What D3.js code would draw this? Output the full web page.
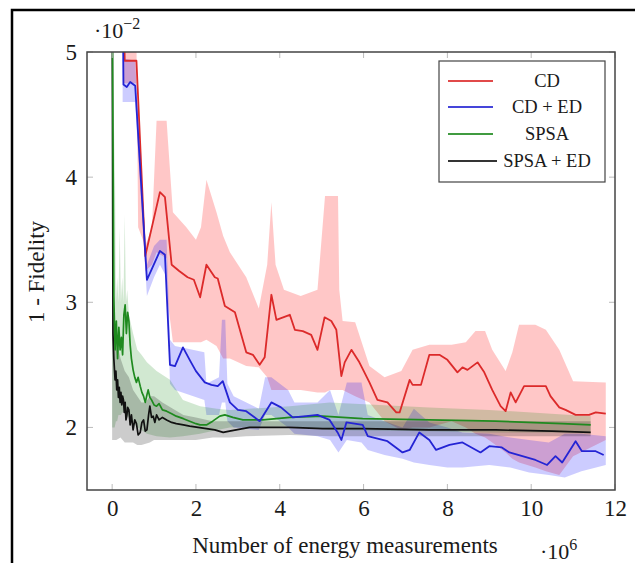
<!DOCTYPE html>
<html><head><meta charset="utf-8">
<script src="https://cdn.jsdelivr.net/npm/d3@7"></script>
<style>body{margin:0;background:#fff;} svg{display:block;} text{font-family:"Liberation Serif","DejaVu Serif",serif;fill:#1a1a1a;}</style>
</head><body><svg id="chart" width="635" height="563"></svg>
<script>
// ---------- data (x in 10^6 measurements, y in 10^-2) ----------
const seriesNames = ["CD", "CD + ED", "SPSA", "SPSA + ED"];
const xTicks = [0, 2, 4, 6, 8, 10, 12];
const yTicks = [2, 3, 4, 5];

const cdX = [0.27,0.30,0.58,0.79,1.14,1.26,1.42,1.60,1.80,1.95,2.10,2.25,2.45,2.52,2.69,2.93,3.20,3.36,3.52,3.64,3.80,3.92,4.24,4.36,4.55,4.75,4.90,5.07,5.23,5.35,5.47,5.55,5.71,5.90,6.14,6.33,6.57,6.78,6.86,7.10,7.17,7.37,7.57,7.81,8.00,8.24,8.36,8.48,8.72,8.88,9.07,9.27,9.39,9.51,9.63,9.83,10.35,10.46,10.67,10.82,11.06,11.38,11.54,11.78];
const cdY = [5.6,4.93,4.93,3.37,3.88,3.84,3.30,3.25,3.20,3.18,3.04,3.30,3.20,3.19,2.97,2.92,2.60,2.58,2.50,2.56,3.06,2.86,2.90,2.78,2.77,2.74,2.62,2.88,2.85,2.78,2.41,2.52,2.62,2.52,2.36,2.22,2.20,2.12,2.12,2.38,2.34,2.34,2.58,2.58,2.54,2.44,2.48,2.46,2.52,2.44,2.30,2.17,2.13,2.28,2.20,2.33,2.33,2.25,2.16,2.14,2.10,2.10,2.12,2.11];
const cdBandX  = [0.27,0.58,0.62,0.79,0.95,1.06,1.30,1.33,1.45,1.77,2.00,2.12,2.25,2.49,2.65,2.81,3.20,3.50,3.70,3.80,3.90,4.10,4.50,4.90,5.08,5.20,5.39,5.42,5.50,5.80,6.14,6.50,6.90,7.17,7.57,8.10,8.44,8.67,8.90,9.07,9.39,9.55,9.71,10.10,10.35,10.67,11.00,11.78];
const cdBandHi = [5.10,5.10,3.60,3.45,3.60,4.45,4.45,4.30,3.72,3.60,3.50,3.60,3.98,3.72,3.53,3.40,3.20,2.95,3.30,3.80,3.30,3.10,3.05,3.10,3.85,3.85,3.85,3.10,2.85,2.84,2.49,2.40,2.45,2.62,2.66,2.66,2.68,2.77,2.77,2.62,2.45,2.60,2.82,2.82,2.78,2.62,2.37,2.36];
const cdBandLo = [4.75,4.75,4.50,3.25,3.30,3.40,3.35,3.00,2.68,2.68,2.68,2.68,2.70,2.65,2.55,2.55,2.49,2.48,2.40,2.30,2.30,2.30,2.30,2.28,2.28,2.30,2.30,2.30,2.30,2.25,2.20,2.05,1.98,2.00,2.00,2.05,2.00,1.95,1.92,1.88,1.80,1.75,1.72,1.68,1.65,1.62,1.77,1.90];

const ceX = [0.25,0.27,0.35,0.43,0.55,0.83,1.14,1.26,1.38,1.50,1.69,1.85,2.00,2.21,2.37,2.52,2.64,2.81,3.00,3.20,3.52,3.80,4.03,4.31,4.63,4.90,5.19,5.38,5.47,5.59,5.98,6.10,6.57,6.93,7.10,7.33,7.57,7.73,8.05,8.36,8.79,9.00,9.30,9.48,9.79,10.10,10.38,10.58,10.74,11.06,11.21,11.54,11.73];
const ceY = [5.6,4.74,4.72,4.76,4.73,3.18,3.41,3.38,2.50,2.49,2.64,2.54,2.45,2.36,2.34,2.33,2.37,2.20,2.14,2.13,2.05,2.20,2.16,2.08,2.09,2.10,2.06,1.96,1.90,2.04,2.02,1.93,1.89,1.80,1.82,1.96,1.90,1.82,1.86,1.88,1.80,1.85,1.84,1.80,1.77,1.74,1.70,1.77,1.72,1.89,1.81,1.81,1.78];
const ceBandX  = [0.25,0.55,0.60,0.83,1.00,1.14,1.30,1.38,1.50,2.20,2.25,2.55,2.62,2.70,2.75,2.90,3.50,3.65,3.80,4.20,4.35,4.90,5.20,5.40,5.60,5.95,6.10,6.50,6.93,7.20,7.57,8.00,8.36,9.00,9.50,9.95,10.42,10.80,11.20,11.78];
const ceBandHi = [4.95,4.93,4.60,3.30,3.45,3.50,3.50,2.70,2.65,2.60,2.35,2.40,2.86,2.86,2.35,2.25,2.15,2.40,2.40,2.30,2.20,2.20,2.30,2.10,2.36,2.36,2.10,2.05,2.00,2.15,2.04,2.00,1.96,1.95,1.92,1.90,1.88,1.95,1.95,1.93];
const ceBandLo = [4.60,4.60,4.30,3.05,3.20,3.30,3.20,2.35,2.30,2.22,2.10,2.10,2.20,2.20,2.05,2.00,1.98,2.10,2.10,2.00,1.95,1.93,1.90,1.80,1.90,1.88,1.82,1.78,1.75,1.72,1.70,1.68,1.68,1.70,1.68,1.64,1.62,1.60,1.65,1.70];

const spX = [0,0.04,0.07,0.10,0.13,0.16,0.19,0.22,0.25,0.28,0.31,0.34,0.37,0.40,0.43,0.46,0.50,0.54,0.58,0.62,0.67,0.71,0.75,0.79,0.83,0.86,0.90,0.94,1.00,1.06,1.12,1.20,1.30,1.42,1.53,1.70,1.85,2.00,2.10,2.25,2.40,2.57,2.69,2.88,3.12,3.60,4.24,5.02,5.98,7.57,9.15,10.74,11.42];
const spY = [5.6,3.05,2.62,2.85,2.55,2.80,2.62,2.72,2.58,2.90,2.98,2.75,2.92,2.85,2.66,2.55,2.46,2.40,2.36,2.40,2.33,2.28,2.25,2.20,2.26,2.30,2.24,2.22,2.18,2.17,2.19,2.14,2.13,2.11,2.09,2.07,2.05,2.03,2.02,2.02,2.05,2.09,2.10,2.08,2.06,2.06,2.08,2.09,2.07,2.06,2.05,2.03,2.02];
const spBandX  = [0,0.03,0.06,0.09,0.12,0.15,0.18,0.21,0.24,0.27,0.30,0.33,0.36,0.40,0.50,0.60,0.70,0.83,1.06,1.38,1.69,2.10,2.50,2.81,4.24,5.19,7.57,9.00,11.42];
const spBandHi = [5.0,3.3,4.4,3.0,3.2,3.0,3.6,3.0,3.2,3.0,3.7,3.0,3.1,2.9,2.75,2.62,2.58,2.52,2.45,2.38,2.22,2.17,2.15,2.14,2.17,2.20,2.16,2.14,2.09];
const spBandLo = [2.0,2.0,2.0,2.05,2.05,2.10,2.10,2.10,2.12,2.12,2.15,2.12,2.10,2.08,2.05,2.00,1.98,1.95,1.93,1.92,1.93,1.95,1.98,2.00,2.01,1.98,1.97,1.96,1.96];

const seX = [0,0.02,0.04,0.07,0.09,0.11,0.13,0.15,0.17,0.19,0.21,0.23,0.25,0.27,0.29,0.31,0.33,0.35,0.37,0.40,0.43,0.46,0.50,0.54,0.58,0.62,0.67,0.71,0.75,0.79,0.83,0.87,0.90,0.94,0.98,1.02,1.06,1.12,1.20,1.30,1.42,1.53,1.70,1.85,2.05,2.25,2.45,2.65,2.80,2.96,3.28,3.60,4.24,5.02,5.98,7.57,9.15,10.50,11.42];
const seY = [5.6,2.75,2.55,2.38,2.45,2.30,2.38,2.24,2.32,2.20,2.28,2.18,2.25,2.22,2.12,2.20,2.06,2.09,2.16,2.14,2.02,2.10,1.98,2.06,2.03,1.94,1.96,2.04,2.06,1.97,1.98,2.10,2.17,2.08,2.09,2.04,2.10,2.06,2.08,2.06,2.04,2.03,2.02,2.01,2.00,1.99,1.98,1.96,1.97,1.98,2.00,2.00,2.00,1.99,1.99,1.98,1.98,1.97,1.96];
const seBandX  = [0,0.05,0.10,0.20,0.30,0.40,0.50,0.60,0.70,0.80,0.90,1.00,1.20,1.45,1.70,2.00,2.40,2.80,3.20,4.24,5.19,7.57,9.15,11.42];
const seBandHi = [3.0,2.9,2.7,2.55,2.45,2.40,2.30,2.25,2.20,2.20,2.25,2.25,2.20,2.15,2.10,2.08,2.05,2.05,2.05,2.05,2.05,2.05,2.05,2.05];
const seBandLo = [1.90,1.90,1.90,1.92,1.88,1.88,1.88,1.86,1.86,1.87,1.88,1.90,1.90,1.90,1.90,1.90,1.92,1.92,1.93,1.94,1.93,1.93,1.93,1.93];

// ---------- layout ----------
const svg = d3.select("#chart");
const L = 87, R = 615, T = 52, B = 490;
const x = d3.scaleLinear().domain([-0.6, 12]).range([L, R]);
const y = d3.scaleLinear().domain([1.5, 5]).range([B, T]);

const colors = {line:["#dc2a2a","#2424d4","#1f8a1f","#111111"], band:["#ff0000","#0000ff","#008000","#000000"]};

// outer frame
svg.append("rect").attr("x",12).attr("y",10).attr("width",700).attr("height",700)
  .attr("fill","none").attr("stroke","#000").attr("stroke-width",2.5);

svg.append("defs").append("clipPath").attr("id","clip").append("rect")
  .attr("x",L).attr("y",T).attr("width",R-L).attr("height",B-T);

const g = svg.append("g").attr("clip-path","url(#clip)");

function band(xs, lo, hi, i, op){
  const data = xs.map((d,k)=>({x:d, lo:lo[k], hi:hi[k]}));
  g.append("path").datum(data)
    .attr("d", d3.area().x(d=>x(d.x)).y0(d=>y(d.lo)).y1(d=>y(d.hi)))
    .attr("fill", colors.band[i]).attr("fill-opacity", op).attr("stroke","none");
}
band(cdBandX, cdBandLo, cdBandHi, 0, 0.22);
band(ceBandX, ceBandLo, ceBandHi, 1, 0.2);
band(spBandX, spBandLo, spBandHi, 2, 0.18);
band(seBandX, seBandLo, seBandHi, 3, 0.2);

// ticks (inside, light gray)
const tk = svg.append("g").attr("stroke","#bbb").attr("stroke-width",1);
xTicks.forEach(t=>{
  tk.append("line").attr("x1",x(t)).attr("x2",x(t)).attr("y1",B).attr("y2",B-6);
  tk.append("line").attr("x1",x(t)).attr("x2",x(t)).attr("y1",T).attr("y2",T+6);
});
yTicks.forEach(t=>{
  tk.append("line").attr("x1",L).attr("x2",L+6).attr("y1",y(t)).attr("y2",y(t));
  tk.append("line").attr("x1",R).attr("x2",R-6).attr("y1",y(t)).attr("y2",y(t));
});

function line(xs, ys, i, w){
  const data = xs.map((d,k)=>[d, ys[k]]);
  g.append("path").datum(data)
    .attr("d", d3.line().x(d=>x(d[0])).y(d=>y(d[1])))
    .attr("fill","none").attr("stroke",colors.line[i]).attr("stroke-width",w).attr("stroke-linejoin","round");
}
line(seX, seY, 3, 1.7);
line(spX, spY, 2, 1.7);
line(cdX, cdY, 0, 1.8);
line(ceX, ceY, 1, 1.8);

// axis box
svg.append("rect").attr("x",L).attr("y",T).attr("width",R-L).attr("height",B-T)
  .attr("fill","none").attr("stroke","#444").attr("stroke-width",1.5);

// tick labels via d3 axes (no lines)
const xAxis = svg.append("g").attr("transform",`translate(0,${B})`)
  .call(d3.axisBottom(x).tickValues(xTicks).tickFormat(d3.format("d")).tickSize(0).tickPadding(10));
xAxis.select(".domain").remove();
xAxis.selectAll("text").attr("font-size",23).attr("font-family","Liberation Serif").attr("fill","#1a1a1a");
const yAxis = svg.append("g").attr("transform",`translate(${L},0)`)
  .call(d3.axisLeft(y).tickValues(yTicks).tickFormat(d3.format("d")).tickSize(0).tickPadding(10));
yAxis.select(".domain").remove();
yAxis.selectAll("text").attr("font-size",23).attr("font-family","Liberation Serif").attr("fill","#1a1a1a");

// exponent labels
const e1 = svg.append("text").attr("x",94).attr("y",38).attr("font-size",22);
e1.append("tspan").text("·10");
e1.append("tspan").attr("dy",-9).attr("font-size",16).text("−2");
const e2 = svg.append("text").attr("x",540).attr("y",559).attr("font-size",22);
e2.append("tspan").text("·10");
e2.append("tspan").attr("dy",-9).attr("font-size",16).text("6");

// axis titles
svg.append("text").attr("x",345).attr("y",553).attr("text-anchor","middle").attr("font-size",23)
  .text("Number of energy measurements");
svg.append("text").attr("transform","translate(44,272) rotate(-90)").attr("text-anchor","middle").attr("font-size",23)
  .text("1 - Fidelity");

// legend
const lg = svg.append("g");
lg.append("rect").attr("x",439).attr("y",61).attr("width",166).attr("height",121)
  .attr("fill","#fff").attr("stroke","#444").attr("stroke-width",1.2);
const ly = [81,107,134,161];
seriesNames.forEach((n,i)=>{
  lg.append("line").attr("x1",448).attr("x2",i===3?497:493).attr("y1",ly[i]).attr("y2",ly[i])
    .attr("stroke",colors.line[i]).attr("stroke-width",1.8).attr("stroke-opacity",0.85);
  lg.append("text").attr("x",547).attr("y",ly[i]+6).attr("text-anchor","middle").attr("font-size",18.5).text(n);
});
</script></body></html>
